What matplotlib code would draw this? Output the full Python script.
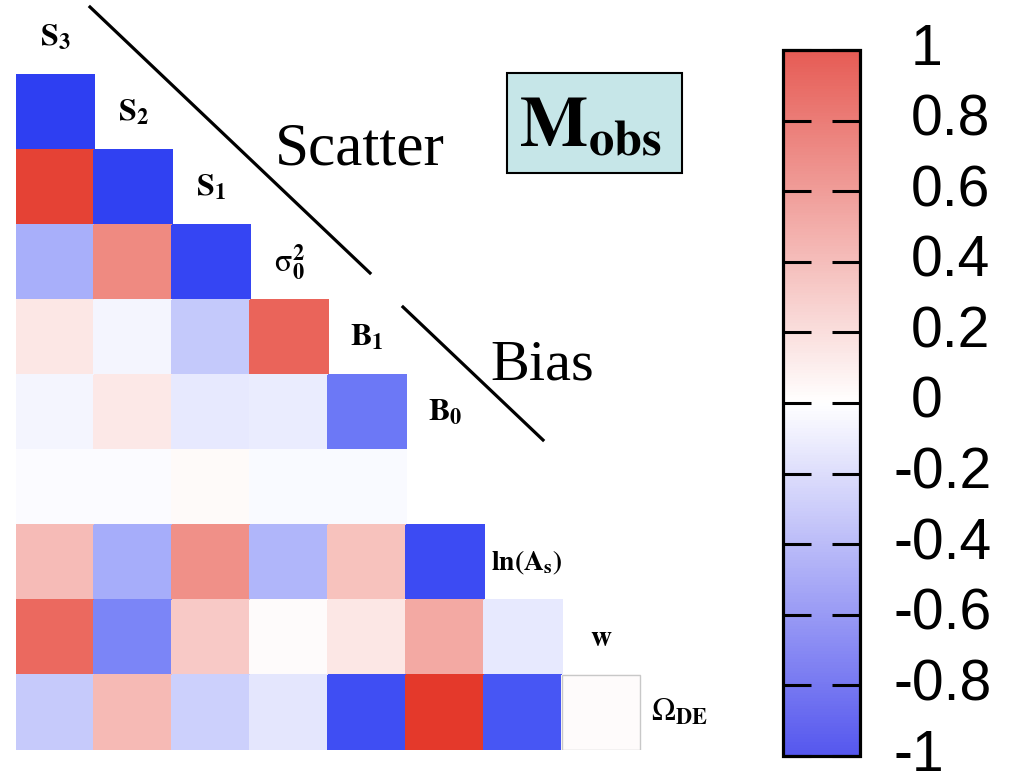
import numpy as np
import matplotlib
matplotlib.use('Agg')
import matplotlib.pyplot as plt
from matplotlib.colors import LinearSegmentedColormap, Normalize
from matplotlib.patches import Rectangle
from matplotlib.lines import Line2D
import matplotlib.transforms as mtransforms
import matplotlib.cm as cm

plt.rcParams['mathtext.fontset'] = 'stix'

# ---------------- data ----------------
param_labels = [r'$\mathbf{S}_\mathbf{3}$', r'$\mathbf{S}_\mathbf{2}$', r'$\mathbf{S}_\mathbf{1}$',
                r'$\mathrm{\sigma}_\mathbf{0}^\mathbf{2}$', r'$\mathbf{B}_\mathbf{1}$', r'$\mathbf{B}_\mathbf{0}$',
                '', r'$\mathbf{ln(A}_\mathbf{s}\mathbf{)}$', r'$\mathbf{w}$', r'$\Omega_\mathbf{DE}$']
label_sizes = [23, 23, 23, 23, 23, 23, 23, 20, 21, 23]

corr_rows = [
    [],
    [-0.98],
    [0.95, -0.97],
    [-0.41, 0.59, -0.95],
    [0.12, -0.05, -0.28, 0.78],
    [-0.05, 0.11, -0.11, -0.10, -0.69],
    [-0.02, -0.02, 0.03, -0.03, -0.03],
    [0.34, -0.42, 0.56, -0.37, 0.31, -0.92],
    [0.75, -0.62, 0.27, 0.02, 0.12, 0.43, -0.11],
    [-0.27, 0.35, -0.24, -0.13, -0.90, 1.00, -0.86, 0.02],
]

cbar_ticks = [1, 0.8, 0.6, 0.4, 0.2, 0, -0.2, -0.4, -0.6, -0.8, -1]
cbar_ticklabels = ['1', '0.8', '0.6', '0.4', '0.2', '0', '-0.2', '-0.4', '-0.6', '-0.8', '-1']

# ---------------- figure ----------------
W, H = 1017, 776
fig = plt.figure(figsize=(W / 100, H / 100), dpi=100)
fig.patch.set_facecolor('white')

cmap = LinearSegmentedColormap.from_list('bwr_c', ['#2b3cf2', '#ffffff', '#e4392b'])
cmap_bar = LinearSegmentedColormap.from_list('bwr_bar', ['#5557ee', '#ffffff', '#e65c55'])
norm = Normalize(-1, 1)

nrows = len(corr_rows)
ncols = 9
mat = np.full((nrows, ncols), np.nan)
for r, vals in enumerate(corr_rows):
    for c, v in enumerate(vals):
        mat[r, c] = v

ax = fig.add_axes([16 / W, (H - 750) / H, 702 / W, 750 / H])
ax.pcolormesh(np.arange(ncols + 1), np.arange(nrows + 1), np.ma.masked_invalid(mat),
              cmap=cmap, norm=norm, edgecolors='face', linewidth=0.3)
ax.set_xlim(0, ncols)
ax.set_ylim(nrows, 0)
ax.axis('off')

# grey border on the last (near-zero) cell
last_r = nrows - 1
last_c = len(corr_rows[last_r]) - 1
ax.add_patch(Rectangle((last_c, last_r), 1, 1, fill=False, edgecolor='#c8c8c8', lw=1.0))

# diagonal labels
for r, (lab, fs) in enumerate(zip(param_labels, label_sizes)):
    if lab:
        c = len(corr_rows[r])
        dx = 0.55 if r == 7 else 0.5
        ax.text(c + dx, r + 0.5, lab, ha='center', va='center', fontsize=fs, color='black')

# overlay in pixel coordinates
ov = fig.add_axes([0, 0, 1, 1], zorder=5)
ov.set_xlim(0, W)
ov.set_ylim(H, 0)
ov.axis('off')
ov.patch.set_alpha(0)

ov.add_line(Line2D([90, 370], [7, 273], color='black', lw=2.3))
ov.add_line(Line2D([403, 543], [307, 440], color='black', lw=2.3))
ov.text(360, 150, 'Scatter', ha='center', va='center', fontsize=44, family='Liberation Serif')
ov.text(542, 365, 'Bias', ha='center', va='center', fontsize=42, family='Liberation Serif')

ov.add_patch(Rectangle((507, 73), 175, 100, facecolor='#c6e6e8', edgecolor='black', lw=1.5))
ov.text(590, 126, r'$\mathbf{M}_\mathbf{obs}$', ha='center', va='center', fontsize=52)

# colorbar
cax = fig.add_axes([783 / W, (H - 756) / H, 77 / W, 706 / H])
sm = cm.ScalarMappable(norm=norm, cmap=cmap_bar)
cb = fig.colorbar(sm, cax=cax, ticks=cbar_ticks)
cb.outline.set_linewidth(2.3)
cax.tick_params(axis='y', direction='in', length=20, width=2.2, left=True, right=True,
                labelleft=False, labelright=False, color='black')

trans = mtransforms.blended_transform_factory(ov.transData, cax.transData)
for t, lab in zip(cbar_ticks, cbar_ticklabels):
    x0 = 911 if not lab.startswith('-') else 894
    ov.text(x0, t, lab, transform=trans, ha='left', va='center', fontsize=41,
            family='Liberation Sans', clip_on=False)

fig.savefig('out.png', dpi=100, facecolor='white')
